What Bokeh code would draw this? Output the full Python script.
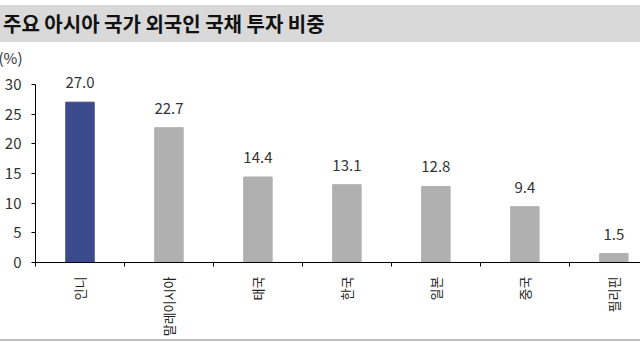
from math import pi
from bokeh.plotting import figure
from bokeh.models import Range1d, FixedTicker, Div, ColumnDataSource, LabelSet, Title
from bokeh.layouts import column
from bokeh.embed import file_html
from bokeh.resources import INLINE
from bokeh.core.properties import value

countries = ["인니", "말레이시아", "태국", "한국", "일본", "중국", "필리핀"]
shares = [27.0, 22.7, 14.4, 13.1, 12.8, 9.4, 1.5]
bar_colors = ["#3b4a8c", "#b0b0b0", "#b0b0b0", "#b0b0b0", "#b0b0b0", "#b0b0b0", "#b0b0b0"]
y_ticks = [0, 5, 10, 15, 20, 25, 30]
title_text = "주요 아시아 국가 외국인 국채 투자 비중"
unit_text = "(%)"

FONT = "Noto Sans CJK KR"

xs = [i + 0.5 for i in range(len(countries))]
bounds = [float(i) for i in range(len(countries))]
src = ColumnDataSource(dict(x=xs, top=shares, color=bar_colors,
                            label=[f"{v:.1f}" for v in shares]))

# frame top at figure y=26 -> y range end 30 + 15/6
p = figure(width=640, height=297, output_backend="svg", toolbar_location=None,
           x_range=Range1d(0, 6.8), y_range=Range1d(0, 30 + 15 / 6),
           min_border_left=35, min_border_right=0, min_border_top=26, min_border_bottom=76)
p.outline_line_color = None
p.xgrid.visible = False
p.ygrid.visible = False
p.background_fill_color = "white"
p.border_fill_color = "white"

p.vbar(x="x", top="top", bottom=0, width=0.32, color="color", source=src)

labels = LabelSet(x="x", y="top", text="label", source=src, text_align="center",
                  text_baseline="alphabetic", y_offset=14, text_font=value(FONT),
                  text_font_size="15px", text_color="#333333")
p.add_layout(labels)

unit = Title(text=unit_text, align="left", offset=-37, standoff=4, text_font=FONT,
             text_font_size="15px", text_font_style="normal", text_color="#333333")
p.add_layout(unit, "above")

ya = p.yaxis[0]
ya.ticker = FixedTicker(ticks=y_ticks)
ya.bounds = (0, 30)
ya.axis_line_color = "black"
ya.major_tick_line_color = "black"
ya.major_tick_out = 4
ya.major_tick_in = 0
ya.minor_tick_line_color = None
ya.major_label_standoff = 10
ya.major_label_text_font = FONT
ya.major_label_text_font_size = "15px"
ya.major_label_text_color = "#333333"

xa = p.xaxis[0]
xa.ticker = FixedTicker(ticks=xs, minor_ticks=bounds)
xa.major_label_overrides = {x: c for x, c in zip(xs, countries)}
xa.axis_line_color = "black"
xa.major_tick_line_color = None
xa.major_tick_out = 0
xa.major_tick_in = 0
xa.minor_tick_line_color = "black"
xa.minor_tick_out = 4
xa.minor_tick_in = 0
xa.major_label_orientation = pi / 2
xa.major_label_standoff = 10
xa.major_label_text_font = FONT
xa.major_label_text_font_size = "13px"
xa.major_label_text_color = "#222222"

title = Div(text=title_text, width=640, height=37, margin=(5, 0, 0, 0),
            styles={"background-color": "#d9d9d9", "font-family": FONT, "font-size": "20px",
                    "font-weight": "bold", "line-height": "37px", "padding-left": "3px",
                    "box-sizing": "border-box", "color": "#111111", "overflow": "hidden",
                    "white-space": "nowrap"})
rule = Div(text="", width=640, height=2, margin=(0, 0, 0, 0),
           styles={"background-color": "#c0c0c0"})

layout = column(title, p, rule, spacing=0)
open("out.html", "w").write(file_html(layout, INLINE))
